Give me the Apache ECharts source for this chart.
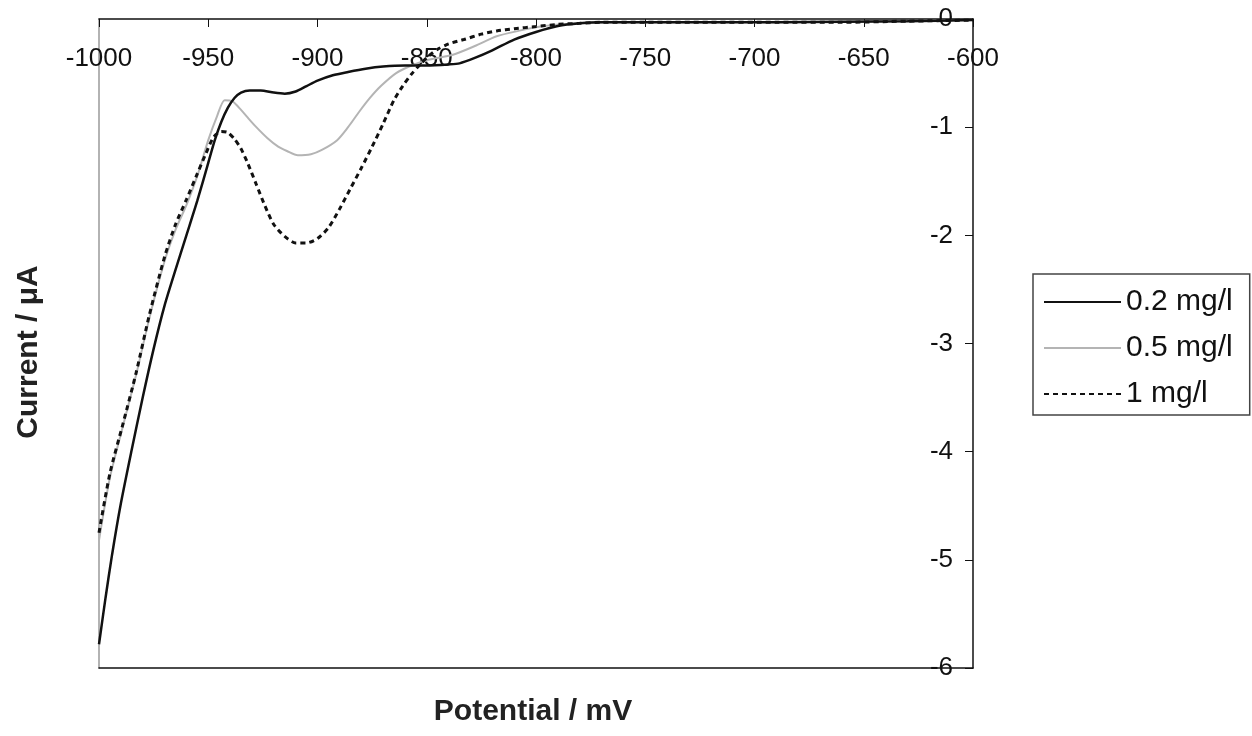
<!DOCTYPE html>
<html>
<head>
<meta charset="utf-8">
<script src="https://cdn.jsdelivr.net/npm/echarts@6/dist/echarts.min.js"></script>
<style>
  html, body { margin: 0; padding: 0; background: #fff; }
  #chart { width: 1252px; height: 736px; }
</style>
</head>
<body>
<div id="chart"></div>
<script>
// Potential axis ticks (mV) and current axis ticks (µA)
const potentialTicks = [-1000, -950, -900, -850, -800, -750, -700, -650, -600];
const currentTicks = [0, -1, -2, -3, -4, -5, -6];

// 0.2 mg/l
const pot02 = [-1000, -997, -994, -990, -985, -980, -975, -970, -965, -960, -955, -950, -947, -944, -941, -938, -935, -931, -926, -920, -915, -910, -905, -900, -893, -886, -878, -870, -860, -850, -840, -835, -828, -820, -810, -800, -790, -780, -770, -750, -720, -690, -660, -630, -600];
const cur02 = [-5.78, -5.35, -4.95, -4.48, -3.98, -3.50, -3.05, -2.65, -2.32, -2.00, -1.68, -1.33, -1.12, -0.95, -0.82, -0.73, -0.68, -0.66, -0.66, -0.68, -0.69, -0.67, -0.62, -0.57, -0.52, -0.49, -0.46, -0.44, -0.43, -0.43, -0.42, -0.41, -0.36, -0.29, -0.19, -0.12, -0.065, -0.04, -0.03, -0.03, -0.03, -0.03, -0.025, -0.02, -0.01];

// 0.5 mg/l
const pot05 = [-1000, -995, -989, -983, -977, -970, -965, -960, -955, -950, -946, -942.5, -939, -935, -932, -928, -923, -918, -914, -909, -903, -898, -891, -886, -881, -876, -871, -864, -857, -850, -838, -828, -818, -808, -798, -788, -778, -760, -720, -680, -640, -600];
const cur05 = [-4.82, -4.24, -3.76, -3.29, -2.77, -2.24, -1.95, -1.72, -1.45, -1.12, -0.90, -0.75, -0.76, -0.84, -0.91, -1.00, -1.10, -1.18, -1.22, -1.26, -1.25, -1.21, -1.12, -1.00, -0.86, -0.73, -0.62, -0.50, -0.43, -0.38, -0.33, -0.25, -0.16, -0.11, -0.07, -0.05, -0.035, -0.03, -0.03, -0.03, -0.02, -0.01];

// 1 mg/l
const pot1 = [-1000, -995, -989, -983, -977, -970, -965, -960, -955, -951, -947.5, -944, -941, -938, -935, -932, -928, -924, -920, -915, -910, -905, -900, -895, -890, -885, -880, -875, -870, -865, -861, -857, -853, -849, -845, -840, -833, -825, -818, -810, -800, -790, -780, -770, -750, -720, -690, -660, -630, -600];
const cur1 = [-4.75, -4.20, -3.74, -3.27, -2.74, -2.20, -1.90, -1.67, -1.43, -1.24, -1.09, -1.04, -1.05, -1.11, -1.20, -1.33, -1.53, -1.73, -1.90, -2.01, -2.07, -2.07, -2.03, -1.93, -1.76, -1.57, -1.38, -1.18, -0.97, -0.75, -0.62, -0.51, -0.42, -0.34, -0.28, -0.23, -0.19, -0.14, -0.11, -0.09, -0.07, -0.05, -0.04, -0.03, -0.03, -0.03, -0.03, -0.03, -0.02, -0.01];

const seriesNames = ['0.2 mg/l', '0.5 mg/l', '1 mg/l'];

const zip = (xs, ys) => xs.map((x, i) => [x, ys[i]]);

const FONT = '"Liberation Sans", Arial, sans-serif';

const chart = echarts.init(document.getElementById('chart'), null, { renderer: 'canvas' });

chart.setOption({
  backgroundColor: '#ffffff',
  animation: false,
  grid: { left: 99, right: 279, top: 19, bottom: 68, containLabel: false },
  xAxis: [
    {
      type: 'value',
      position: 'top',
      min: potentialTicks[0],
      max: potentialTicks[potentialTicks.length - 1],
      interval: 50,
      axisLine: { show: true, onZero: false, lineStyle: { color: '#111', width: 1.5 } },
      axisTick: { show: true, inside: true, length: 8, lineStyle: { color: '#111', width: 1 } },
      axisLabel: {
        inside: true, margin: 27, color: '#111', fontSize: 26, fontFamily: FONT,
        showMinLabel: true, showMaxLabel: true, hideOverlap: false,
        formatter: (v) => String(v)
      },
      splitLine: { show: false }
    },
    {
      type: 'value',
      position: 'bottom',
      min: potentialTicks[0],
      max: potentialTicks[potentialTicks.length - 1],
      axisLine: { show: true, onZero: false, lineStyle: { color: '#111', width: 1.5 } },
      axisTick: { show: false },
      axisLabel: { show: false },
      splitLine: { show: false }
    }
  ],
  yAxis: [
    {
      type: 'value',
      position: 'right',
      min: currentTicks[currentTicks.length - 1],
      max: currentTicks[0],
      interval: 1,
      axisLine: { show: true, onZero: false, lineStyle: { color: '#111', width: 1.5 } },
      axisTick: { show: true, inside: true, length: 8, lineStyle: { color: '#111', width: 1 } },
      axisLabel: {
        inside: true, margin: 20, color: '#111', fontSize: 26, fontFamily: FONT,
        showMinLabel: true, showMaxLabel: true,
        formatter: (v) => String(v)
      },
      splitLine: { show: false }
    },
    {
      type: 'value',
      position: 'left',
      min: currentTicks[currentTicks.length - 1],
      max: currentTicks[0],
      axisLine: { show: true, onZero: false, lineStyle: { color: '#9a9a9a', width: 1.5 } },
      axisTick: { show: false },
      axisLabel: { show: false },
      splitLine: { show: false }
    }
  ],
  legend: {
    orient: 'vertical',
    left: 1033,
    top: 274,
    data: seriesNames,
    itemWidth: 77,
    itemHeight: 30,
    itemGap: 16,
    padding: [13, 17, 6, 10],
    borderColor: '#444',
    borderWidth: 1.5,
    backgroundColor: '#fff',
    itemStyle: { opacity: 0 },
    textStyle: { fontSize: 30, lineHeight: 30, color: '#111', fontFamily: FONT },
    selectedMode: false
  },
  series: [
    {
      name: seriesNames[0],
      type: 'line',
      data: zip(pot02, cur02),
      showSymbol: false,
      symbol: 'none',
      smooth: 0.25,
      z: 3,
      lineStyle: { color: '#111', width: 2.5, type: 'solid' },
      itemStyle: { color: '#111' }
    },
    {
      name: seriesNames[1],
      type: 'line',
      data: zip(pot05, cur05),
      showSymbol: false,
      symbol: 'none',
      smooth: 0.25,
      z: 2,
      lineStyle: { color: '#b4b4b4', width: 2, type: 'solid' },
      itemStyle: { color: '#b4b4b4' }
    },
    {
      name: seriesNames[2],
      type: 'line',
      data: zip(pot1, cur1),
      showSymbol: false,
      symbol: 'none',
      smooth: 0.25,
      z: 3,
      lineStyle: { color: '#111', width: 3, type: [5, 4] },
      itemStyle: { color: '#111' }
    }
  ],
  graphic: [
    {
      type: 'text',
      x: 29, y: 352,
      rotation: Math.PI / 2,
      style: {
        text: 'Current / μA',
        fontSize: 30, fontWeight: 'bold', fontFamily: FONT,
        fill: '#222', align: 'center', verticalAlign: 'middle'
      }
    },
    {
      type: 'text',
      x: 533, y: 712,
      style: {
        text: 'Potential / mV',
        fontSize: 30, fontWeight: 'bold', fontFamily: FONT,
        fill: '#222', align: 'center', verticalAlign: 'middle'
      }
    }
  ]
});
</script>
</body>
</html>
